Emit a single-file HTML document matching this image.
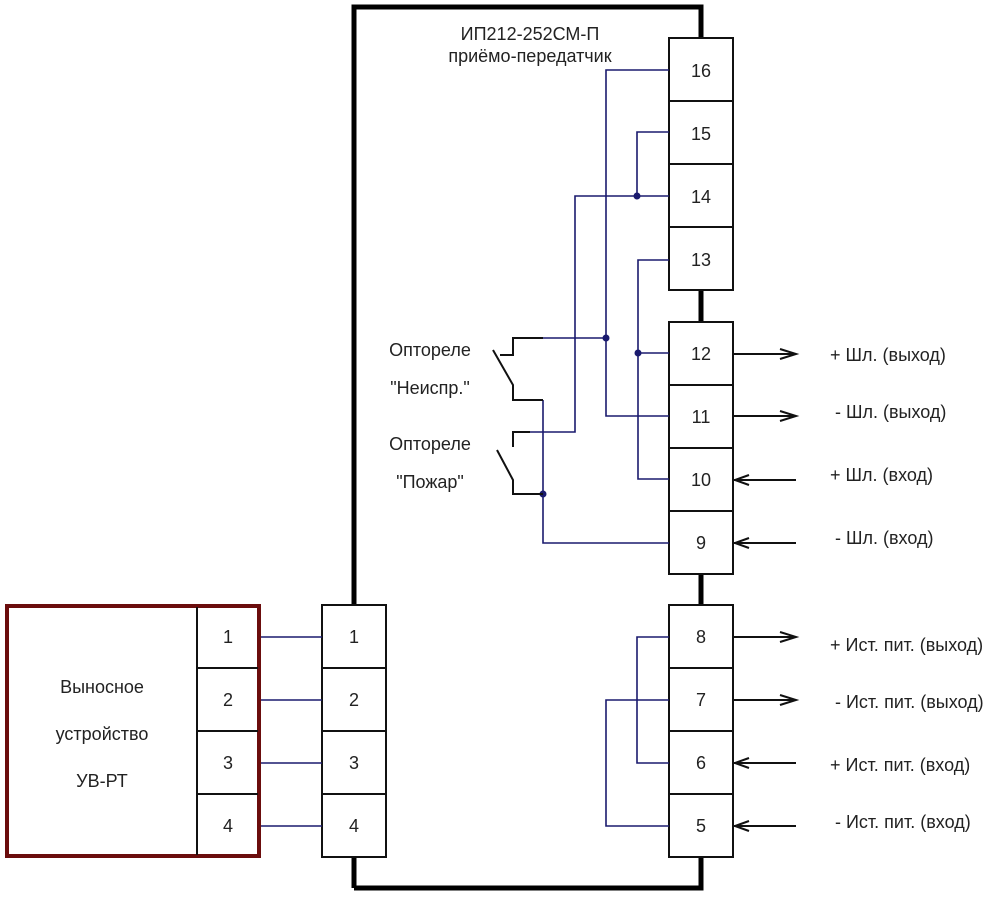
<!DOCTYPE html>
<html><head><meta charset="utf-8"><style>
html,body{margin:0;padding:0;background:#fff;width:1000px;height:897px;overflow:hidden}
text{font-family:"Liberation Sans",sans-serif;font-size:18px;fill:#222}
</style></head><body>
<svg width="1000" height="897" viewBox="0 0 1000 897" xmlns="http://www.w3.org/2000/svg">
<!-- main housing -->
<path d="M354 888 V7 H701 V40 M701 290 V322 M701 574 V605 M701 857 V888 H354" fill="none" stroke="#000" stroke-width="5"/>
<text x="530" y="40" text-anchor="middle">ИП212-252СМ-П</text>
<text x="530" y="62" text-anchor="middle">приёмо-передатчик</text>
<!-- right terminals -->
<g fill="#fff" stroke="#111" stroke-width="2">
<rect x="669" y="38" width="64" height="252"/>
<rect x="669" y="322" width="64" height="252"/>
<rect x="669" y="605" width="64" height="252"/>
<rect x="322" y="605" width="64" height="252"/>
</g>
<g stroke="#111" stroke-width="2">
<line x1="669" y1="101" x2="733" y2="101"/><line x1="669" y1="164" x2="733" y2="164"/><line x1="669" y1="227" x2="733" y2="227"/>
<line x1="669" y1="385" x2="733" y2="385"/><line x1="669" y1="448" x2="733" y2="448"/><line x1="669" y1="511" x2="733" y2="511"/>
<line x1="669" y1="668" x2="733" y2="668"/><line x1="669" y1="731" x2="733" y2="731"/><line x1="669" y1="794" x2="733" y2="794"/>
<line x1="322" y1="668" x2="386" y2="668"/><line x1="322" y1="731" x2="386" y2="731"/><line x1="322" y1="794" x2="386" y2="794"/>
</g>
<g text-anchor="middle">
<text x="701" y="77">16</text><text x="701" y="140">15</text><text x="701" y="203">14</text><text x="701" y="266">13</text>
<text x="701" y="360">12</text><text x="701" y="423">11</text><text x="701" y="486">10</text><text x="701" y="549">9</text>
<text x="701" y="643">8</text><text x="701" y="706">7</text><text x="701" y="769">6</text><text x="701" y="832">5</text>
<text x="354" y="643">1</text><text x="354" y="706">2</text><text x="354" y="769">3</text><text x="354" y="832">4</text>
</g>
<!-- external device -->
<rect x="7" y="606" width="252" height="250" fill="#fff" stroke="#6b0d0d" stroke-width="4"/>
<g stroke="#111" stroke-width="2">
<line x1="197" y1="607" x2="197" y2="855"/>
<line x1="197" y1="668" x2="258" y2="668"/><line x1="197" y1="731" x2="258" y2="731"/><line x1="197" y1="794" x2="258" y2="794"/>
</g>
<g text-anchor="middle">
<text x="228" y="643">1</text><text x="228" y="706">2</text><text x="228" y="769">3</text><text x="228" y="832">4</text>
<text x="102" y="693">Выносное</text><text x="102" y="740">устройство</text><text x="102" y="787">УВ-РТ</text>
</g>
<!-- blue wires -->
<g fill="none" stroke="#1a1a6e" stroke-width="1.6">
<path d="M261 637H322M261 700H322M261 763H322M261 826H322"/>
<path d="M669 70H606V416H669"/>
<path d="M669 132H637V196"/>
<path d="M669 196H575V432H530"/>
<path d="M669 260H638V479H669"/>
<path d="M638 353H669"/>
<path d="M543 338H606"/>
<path d="M543 400V543H669"/>
<path d="M669 637H637V763H669"/>
<path d="M669 700H606V826H669"/>
</g>
<g fill="#1a1a6e">
<circle cx="606" cy="338" r="3.5"/><circle cx="637" cy="196" r="3.5"/><circle cx="638" cy="353" r="3.5"/><circle cx="543" cy="494" r="3.5"/>
</g>
<!-- relays -->
<g fill="none" stroke="#111" stroke-width="2">
<path d="M543 338H513V355H500"/>
<path d="M493 350L513 385V400H543"/>
<path d="M530 432H513V447"/>
<path d="M497 450L513 480V494H543"/>
</g>
<text x="430" y="356" text-anchor="middle">Оптореле</text>
<text x="430" y="394" text-anchor="middle">"Неиспр."</text>
<text x="430" y="450" text-anchor="middle">Оптореле</text>
<text x="430" y="488" text-anchor="middle">"Пожар"</text>
<!-- arrows -->
<g stroke="#111" stroke-width="2" fill="none">
<path d="M733 354H796M780 349L796 354L780 359"/>
<path d="M733 416H796M780 411L796 416L780 421"/>
<path d="M733 480H796M749 475L735 480L749 485"/>
<path d="M733 543H796M749 538L735 543L749 548"/>
<path d="M733 637H796M780 632L796 637L780 642"/>
<path d="M733 700H796M780 695L796 700L780 705"/>
<path d="M733 763H796M749 758L735 763L749 768"/>
<path d="M733 826H796M749 821L735 826L749 831"/>
</g>
<text x="830" y="361">+ Шл. (выход)</text>
<text x="835" y="418">- Шл. (выход)</text>
<text x="830" y="481">+ Шл. (вход)</text>
<text x="835" y="544">- Шл. (вход)</text>
<text x="830" y="651">+ Ист. пит. (выход)</text>
<text x="835" y="708">- Ист. пит. (выход)</text>
<text x="830" y="771">+ Ист. пит. (вход)</text>
<text x="835" y="828">- Ист. пит. (вход)</text>
</svg>
</body></html>
